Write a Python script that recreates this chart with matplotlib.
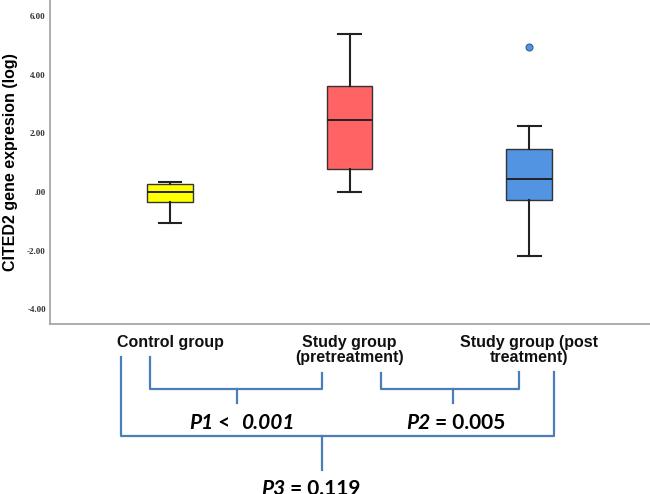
import matplotlib.pyplot as plt

# group summaries (log CITED2 expression)
groups = ["Control group", "Study group\n(pretreatment)", "Study group (post\ntreatment)"]
whis_lo = [-1.06, 0.01, -2.20]
q1 = [-0.34, 0.78, -0.27]
medians = [0.00, 2.46, 0.44]
q3 = [0.27, 3.62, 1.47]
whis_hi = [0.34, 5.39, 2.25]
outliers = [[], [], [4.95]]
box_colors = ["#FFFF00", "#FF6363", "#5294E2"]

yticks = [-4, -2, 0, 2, 4, 6]
ytick_labels = ["-4.00", "-2.00", ".00", "2.00", "4.00", "6.00"]

fig = plt.figure(figsize=(6.5, 4.94), dpi=100)
ax = fig.add_axes([50 / 650, 1 - 324 / 494, 600 / 650, 324 / 494])

stats = []
for i in range(len(groups)):
    stats.append({
        "whislo": whis_lo[i], "q1": q1[i], "med": medians[i],
        "q3": q3[i], "whishi": whis_hi[i], "fliers": outliers[i],
    })

bp = ax.bxp(stats, positions=[1, 2, 3], widths=0.256, capwidths=0.128,
            patch_artist=True, showfliers=True,
            boxprops=dict(edgecolor="#333333", linewidth=1.0),
            medianprops=dict(color="#222222", linewidth=1.4),
            whiskerprops=dict(color="#222222", linewidth=1.5),
            capprops=dict(color="#222222", linewidth=1.5),
            flierprops=dict(marker="o", markersize=5, markerfacecolor="#5294E2",
                            markeredgecolor="#2F5F9F", markeredgewidth=0.8))
for patch, c in zip(bp["boxes"], box_colors):
    patch.set_facecolor(c)

ax.set_xlim(0.3315, 3.674)
ax.set_ylim(-4.505, 6.55)
ax.set_yticks(yticks)
ax.set_yticklabels(ytick_labels, fontfamily="Liberation Serif", fontweight="bold",
                   fontsize=6.5, color="#333333")
ax.set_xticks([1, 2, 3])
ax.set_xticklabels(groups, fontfamily="Liberation Sans", fontweight="bold",
                   fontsize=11.5, linespacing=1.0, color="#111111")
ax.tick_params(axis="both", length=0)
ax.tick_params(axis="x", pad=8)
ax.tick_params(axis="y", pad=3)
for s in ["top", "right"]:
    ax.spines[s].set_visible(False)
for s in ["left", "bottom"]:
    ax.spines[s].set_color("#A0A0A0")
    ax.spines[s].set_linewidth(1.2)
ax.set_ylabel("CITED2 gene expresion (log)", fontfamily="Liberation Sans",
              fontweight="bold", fontsize=11.5)
ax.yaxis.set_label_coords(-32 / 600, 0.5)

# overlay in pixel units for the significance brackets
ov = fig.add_axes([0, 0, 1, 1], zorder=5)
ov.set_xlim(0, 650)
ov.set_ylim(494, 0)
ov.axis("off")
ov.patch.set_alpha(0)

bc = "#4A7EBB"
lw = 1.6
# P1 bracket
ov.plot([150, 150, 322, 322], [357, 389, 389, 373], color=bc, lw=lw)
ov.plot([237, 237], [389, 403], color=bc, lw=lw)
# P2 bracket
ov.plot([381, 381, 519, 519], [373, 389, 389, 372], color=bc, lw=lw)
ov.plot([453, 453], [389, 403], color=bc, lw=lw)
# P3 bracket
ov.plot([121, 121, 554, 554], [357, 436, 436, 372], color=bc, lw=lw)
ov.plot([322, 322], [436, 470], color=bc, lw=lw)

pfont = "Lato"
psize = 15


def rich_text(x, y, pieces):
    t = ov.text(x, y, pieces[0][0], fontfamily=pfont, fontsize=psize,
                fontweight="bold", fontstyle=pieces[0][1], ha="left", va="baseline")
    for txt, style in pieces[1:]:
        t = ov.annotate(txt, xy=(1, 0), xycoords=t, ha="left", va="bottom",
                        fontfamily=pfont, fontsize=psize, fontweight="bold",
                        fontstyle=style)


rich_text(189, 429, [("P1", "italic"), (" <  ", "normal"), ("0.001", "italic")])
rich_text(406, 429, [("P2", "italic"), (" = 0.005", "normal")])
rich_text(261, 495, [("P3", "italic"), (" = 0.119", "normal")])

fig.savefig("out.png", dpi=100)
